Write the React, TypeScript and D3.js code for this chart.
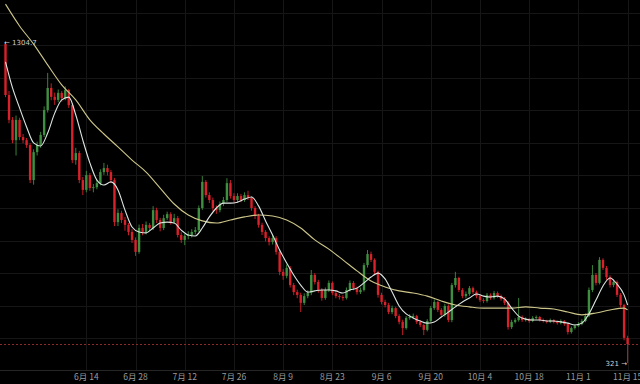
import React from 'react';
import * as d3 from 'd3';

// Daily candles, 2018-05-22 .. 2018-11-15
const firstOpen = 1298;
const closes = [
  1132, 1051, 985, 1051, 995, 985, 969, 855, 946, 969,
  1002, 1083, 1155, 1126, 1116, 1139, 1122, 1148, 1099, 920,
  943, 855, 823, 871, 829, 832, 845, 881, 894, 881,
  855, 718, 748, 725, 709, 686, 660, 621, 699, 686,
  709, 699, 757, 725, 699, 731, 744, 718, 731, 676,
  660, 673, 676, 686, 692, 764, 849, 806, 790, 764,
  757, 777, 790, 845, 803, 790, 803, 790, 806, 797,
  764, 738, 709, 686, 666, 653, 666, 621, 556, 543,
  569, 513, 490, 481, 455, 477, 487, 546, 523, 497,
  471, 497, 520, 487, 477, 474, 471, 497, 520, 503,
  490, 497, 578, 614, 595, 556, 481, 458, 448, 425,
  438, 412, 393, 373, 406, 409, 412, 393, 383, 367,
  396, 438, 458, 432, 416, 445, 399, 513, 536, 497,
  477, 484, 503, 490, 477, 464, 461, 481, 471, 487,
  477, 468, 455, 376, 393, 399, 409, 399, 402, 396,
  406, 409, 399, 396, 393, 399, 393, 389, 396, 386,
  360, 373, 380, 386, 396, 412, 497, 546, 520, 595,
  569, 539, 513, 523, 481, 448, 341, 321,
];
const highs = [
  1305, 1145, 1060, 1065, 1058, 1005, 992, 975, 955, 980,
  1012, 1095, 1204, 1170, 1140, 1150, 1145, 1160, 1152, 1105,
  960, 950, 865, 885, 878, 842, 855, 890, 911, 905,
  888, 862, 760, 755, 735, 715, 695, 668, 710, 712,
  720, 715, 770, 765, 732, 742, 752, 750, 745, 738,
  685, 680, 688, 695, 702, 772, 868, 855, 815, 798,
  772, 785, 800, 861, 855, 812, 812, 810, 815, 820,
  802, 770, 745, 716, 692, 672, 676, 672, 628, 565,
  580, 575, 520, 498, 488, 486, 496, 562, 552, 530,
  503, 505, 528, 525, 495, 484, 480, 505, 528, 526,
  508, 505, 585, 627, 622, 600, 560, 488, 465, 455,
  446, 442, 418, 400, 412, 418, 420, 416, 398, 388,
  402, 445, 466, 462, 438, 452, 450, 520, 556, 540,
  503, 492, 510, 508, 495, 482, 470, 487, 486, 494,
  492, 482, 474, 460, 400, 405, 471, 414, 408, 406,
  412, 414, 412, 404, 400, 404, 402, 397, 401, 399,
  390, 378, 385, 392, 402, 420, 505, 578, 552, 604,
  600, 575, 545, 532, 528, 487, 452, 348,
];
const lows = [
  1125, 1040, 975, 935, 985, 975, 960, 845, 840, 935,
  960, 995, 1075, 1115, 1100, 1108, 1110, 1115, 1090, 910,
  905, 845, 806, 815, 820, 815, 825, 838, 872, 870,
  845, 705, 705, 715, 690, 675, 650, 608, 615, 675,
  678, 690, 692, 715, 688, 692, 725, 710, 712, 668,
  650, 643, 662, 668, 678, 686, 758, 798, 780, 755,
  745, 750, 770, 784, 795, 780, 782, 783, 784, 790,
  755, 728, 700, 676, 655, 642, 645, 612, 545, 530,
  535, 505, 480, 470, 425, 448, 470, 480, 515, 488,
  462, 465, 490, 480, 470, 466, 462, 466, 492, 496,
  482, 484, 492, 570, 588, 548, 472, 450, 440, 418,
  418, 405, 385, 350, 368, 400, 402, 386, 376, 350,
  362, 390, 432, 425, 408, 410, 392, 392, 505, 490,
  470, 470, 478, 484, 470, 458, 454, 456, 465, 466,
  471, 462, 448, 368, 370, 388, 394, 393, 394, 390,
  392, 401, 394, 391, 388, 389, 388, 384, 385, 380,
  352, 355, 368, 376, 382, 392, 408, 490, 512, 515,
  562, 530, 505, 506, 474, 440, 333, 259,
];

// Fast moving average (light line), read at day indexes
const maFastDays = [
  0, 2, 4, 6, 8, 10, 12, 14, 16, 18, 20, 22, 24, 26, 28, 30, 32, 34, 36, 38,
  40, 42, 44, 46, 48, 50, 52, 54, 56, 58, 60, 62, 64, 66, 68, 70, 72, 74, 76, 78,
  80, 82, 84, 86, 88, 90, 92, 94, 96, 98, 100, 102, 104, 106, 108, 110, 112, 114, 116, 118,
  120, 122, 124, 126, 128, 130, 132, 134, 136, 138, 140, 142, 144, 146, 148, 150, 152, 154, 156, 158,
  160, 162, 164, 166, 168, 170, 172, 174, 176, 177,
];
const maFastValues = [
  1240, 1155, 1090, 1028, 976, 966, 1008, 1073, 1116, 1125, 1067, 985, 911, 855, 839, 849, 823, 757, 702, 686,
  683, 699, 715, 718, 715, 692, 676, 673, 699, 735, 764, 780, 780, 783, 793, 800, 771, 722, 676, 627,
  585, 546, 513, 490, 494, 497, 497, 494, 487, 497, 503, 520, 539, 552, 533, 490, 445, 419, 406, 396,
  389, 393, 409, 425, 442, 458, 471, 484, 477, 474, 477, 468, 438, 412, 402, 399, 399, 396, 396, 393,
  389, 383, 389, 419, 464, 510, 536, 516, 481, 448,
];
// Slow moving average (khaki line)
const maSlowDays = [
  0, 4, 8, 12, 16, 20, 24, 28, 32, 36, 40, 44, 48, 52, 56, 60, 64, 68, 72, 76,
  80, 84, 88, 92, 96, 100, 104, 108, 112, 116, 120, 124, 128, 132, 136, 140, 144, 148, 152, 156,
  160, 164, 168, 172, 176, 177,
];
const maSlowValues = [
  1428, 1357, 1298, 1230, 1165, 1116, 1051, 1005, 963, 920, 881, 829, 777, 741, 722, 715, 725, 735, 741, 738,
  725, 699, 660, 630, 595, 559, 526, 507, 494, 487, 477, 461, 448, 442, 438, 438, 438, 442, 438, 435,
  425, 416, 422, 432, 438, 432,
];

const tickDays = [23, 37, 51, 65, 79, 93, 107, 121, 135, 149, 163, 177];
const tickLabels = ['6月 14', '6月 28', '7月 12', '7月 26', '8月 9', '8月 23', '9月 6', '9月 20', '10月 4', '10月 18', '11月 1', '11月 15'];
const gridPrices = [340, 446, 552, 658, 764, 870, 976, 1082, 1188, 1294, 1400];
const maxLabel = 1304.7;
const lastPrice = 321;

export default function App() {
  const W = 640;
  const H = 384;
  const n = closes.length;
  const x = d3.scaleLinear().domain([0, n - 1]).range([5.5, 627.6]);
  const y = d3.scaleLinear().domain([lastPrice, maxLabel]).range([344, 42]);
  const opens = closes.map((c, i) => (i === 0 ? firstOpen : closes[i - 1]));
  const bw = 2.4;
  const red = '#d8212a';
  const green = '#3f8f40';

  const fastLine = d3
    .line<number>()
    .x((d, i) => x(maFastDays[i]))
    .y((d) => y(d))
    .curve(d3.curveMonotoneX);
  const slowLine = d3
    .line<number>()
    .x((d, i) => x(maSlowDays[i]))
    .y((d) => y(d))
    .curve(d3.curveMonotoneX);

  const axisY = 370;

  return (
    <svg
      width={W}
      height={H}
      style={{ position: 'absolute', left: 0, top: 0, background: '#000', display: 'block' }}
    >
      <rect x={0} y={0} width={W} height={H} fill="#000" />
      {gridPrices.map((p) => (
        <line key={'h' + p} x1={0} x2={W} y1={Math.round(y(p)) + 0.5} y2={Math.round(y(p)) + 0.5} stroke="#161616" strokeWidth={1} />
      ))}
      {tickDays.map((d) => (
        <line key={'v' + d} x1={Math.round(x(d)) + 0.5} x2={Math.round(x(d)) + 0.5} y1={0} y2={axisY} stroke="#161616" strokeWidth={1} />
      ))}
      <line x1={0} x2={W} y1={axisY + 0.5} y2={axisY + 0.5} stroke="#262626" strokeWidth={1} />
      <line x1={0} x2={W} y1={y(lastPrice) + 0.5} y2={y(lastPrice) + 0.5} stroke="#8c2a2a" strokeWidth={1} strokeDasharray="2,2" />

      {closes.map((c, i) => {
        const o = opens[i];
        const up = c >= o;
        const col = up ? green : red;
        const cx = x(i);
        const top = y(Math.max(o, c));
        const bot = y(Math.min(o, c));
        return (
          <g key={i}>
            <line x1={cx} x2={cx} y1={y(highs[i])} y2={y(lows[i])} stroke={col} strokeWidth={0.9} />
            <rect x={cx - bw / 2} y={top} width={bw} height={Math.max(1, bot - top)} fill={col} />
          </g>
        );
      })}

      <path d={slowLine(maSlowValues) || ''} fill="none" stroke="#cdc68a" strokeWidth={1.1} />
      <path d={fastLine(maFastValues) || ''} fill="none" stroke="#dce6e2" strokeWidth={1.1} />

      <text x={4} y={y(maxLabel) + 1} fontFamily="'DejaVu Sans', sans-serif" fontSize={7} fill="#d0d0d0" dominantBaseline="middle">
        {'← ' + maxLabel}
      </text>
      <text x={627} y={364} fontFamily="'DejaVu Sans', sans-serif" fontSize={7} fill="#d0d0d0" textAnchor="end" dominantBaseline="middle">
        {lastPrice + ' →'}
      </text>

      {tickDays.map((d, i) => (
        <text key={'t' + d} x={x(d)} y={378} textAnchor="middle" dominantBaseline="middle" fontFamily="'Noto Sans CJK SC', 'Noto Sans', sans-serif" fontSize={8.5} fill="#9a9a9a">
          {tickLabels[i]}
        </text>
      ))}
    </svg>
  );
}
